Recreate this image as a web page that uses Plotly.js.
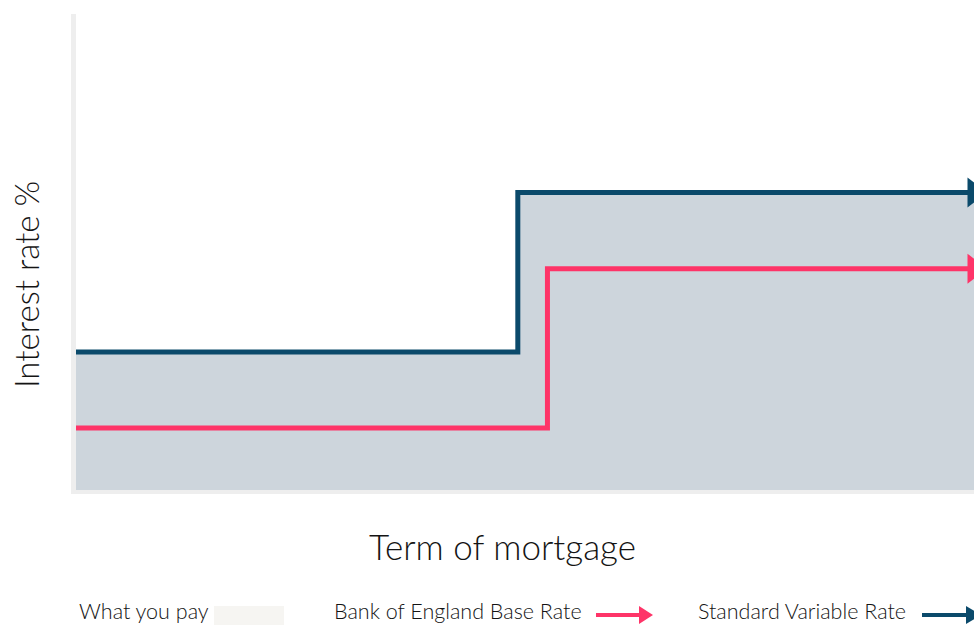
<!DOCTYPE html>
<html>
<head>
<meta charset="utf-8">
<script src="https://cdn.plot.ly/plotly-3.0.1.min.js"></script>
<style>html,body{margin:0;padding:0;background:#fff;overflow:hidden}</style>
</head>
<body>
<div id="chart" style="width:974px;height:625px"></div>
<script>
// Data (term of mortgage as % of term, interest rate in arbitrary units)
const svrTerm = [0, 49.2, 100];
const svrRate = [2.9, 6.25, 6.25];
const boeTerm = [0, 52.5, 100];
const boeRate = [1.3, 4.65, 4.65];
const legendLabels = ["What you pay", "Bank of England Base Rate", "Standard Variable Rate"];
const axisTitles = {x: "Term of mortgage", y: "Interest rate %"};

const W = 974, H = 625, L = 76, T = 14, B = 135, R = 0;
const pw = W - L - R, ph = H - T - B;
const px = v => (v - L) / pw;
const py = v => (H - B - v) / ph;

const SVR = "#0b4a6b", BOE = "#fe3468", FILL = "#cdd5dc", TXT = "#141414";
const font = "Lato, 'Open Sans', sans-serif";

const traces = [
  {x: svrTerm, y: svrRate, type: "scatter", mode: "lines+markers", line: {shape: "hv", color: SVR, width: 5},
   fill: "tozeroy", fillcolor: FILL, cliponaxis: false,
   marker: {symbol: "triangle-right", color: SVR, opacity: 1, size: svrTerm.map((_, i) => i === svrTerm.length - 1 ? 26 : 0), line: {width: 0}},
   hoverinfo: "skip", name: legendLabels[2]},
  {x: boeTerm, y: boeRate, type: "scatter", mode: "lines+markers", line: {shape: "hv", color: BOE, width: 5},
   cliponaxis: false,
   marker: {symbol: "triangle-right", color: BOE, opacity: 1, size: boeTerm.map((_, i) => i === boeTerm.length - 1 ? 26 : 0), line: {width: 0}},
   hoverinfo: "skip", name: legendLabels[1]}
];

const shapes = [
  {type: "rect", xref: "paper", yref: "paper", x0: px(71), x1: px(76), y0: py(494), y1: 1, fillcolor: "#eeeeee", line: {width: 0}, layer: "below"},
  {type: "rect", xref: "paper", yref: "paper", x0: px(71), x1: 1, y0: py(494), y1: py(490), fillcolor: "#eeeeee", line: {width: 0}, layer: "below"},
  // legend swatch
  {type: "rect", xref: "paper", yref: "paper", x0: px(214), x1: px(284), y0: py(627), y1: py(606), fillcolor: "#f6f5f2", line: {width: 0}},
  // BoE arrow
  {type: "line", xref: "paper", yref: "paper", x0: px(596), x1: px(641), y0: py(615), y1: py(615), line: {color: BOE, width: 4}},
  {type: "path", xref: "paper", yref: "paper",
   path: `M${px(639)},${py(606)} L${px(653)},${py(615)} L${px(639)},${py(624)} Z`, fillcolor: BOE, line: {width: 0}},
  // SVR arrow
  {type: "line", xref: "paper", yref: "paper", x0: px(922), x1: px(968), y0: py(615), y1: py(615), line: {color: SVR, width: 4}},
  {type: "path", xref: "paper", yref: "paper",
   path: `M${px(966)},${py(606)} L${px(981)},${py(615)} L${px(966)},${py(624)} Z`, fillcolor: SVR, line: {width: 0}}
];

const ann = (text, x, y, size, extra) => Object.assign({text, xref: "paper", yref: "paper", x, y, showarrow: false,
  font: {family: font, size, color: TXT, weight: 300}}, extra || {});

const annotations = [
  ann(axisTitles.y, px(26), py(285), 33, {textangle: -90, xanchor: "center", yanchor: "middle"}),
  ann(axisTitles.x, px(502), py(546), 35, {xanchor: "center", yanchor: "middle"}),
  ann(legendLabels[0], px(77), py(611), 21.5, {xanchor: "left", yanchor: "middle"}),
  ann(legendLabels[1], px(332), py(611), 21.5, {xanchor: "left", yanchor: "middle"}),
  ann(legendLabels[2], px(696), py(611), 21.5, {xanchor: "left", yanchor: "middle"})
];

const layout = {
  width: W, height: H, margin: {l: L, r: R, t: T, b: B, pad: 0},
  paper_bgcolor: "#ffffff", plot_bgcolor: "#ffffff", showlegend: false,
  xaxis: {range: [0, 100], showgrid: false, zeroline: false, showline: false, showticklabels: false, ticks: "", fixedrange: true},
  yaxis: {range: [0, 10], showgrid: false, zeroline: false, showline: false, showticklabels: false, ticks: "", fixedrange: true},
  shapes, annotations,
  font: {family: font, color: TXT}
};

Plotly.newPlot("chart", traces, layout, {displayModeBar: false, staticPlot: true});
</script>
</body>
</html>
